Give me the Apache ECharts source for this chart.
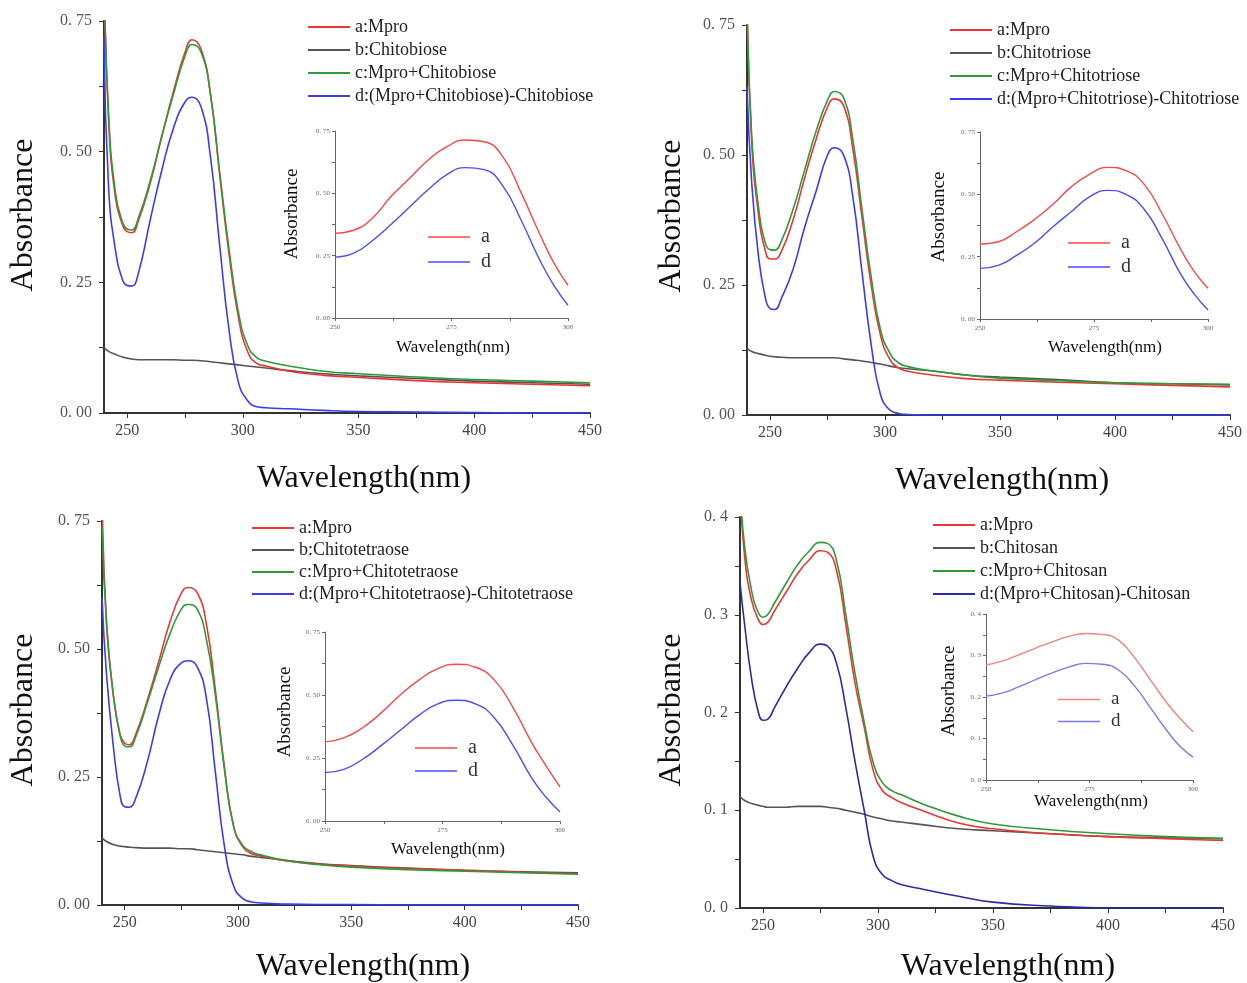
<!DOCTYPE html>
<html>
<head>
<meta charset="utf-8">
<title>UV absorbance of Mpro with chitooligosaccharides</title>
<script src="https://cdn.jsdelivr.net/npm/echarts@6/dist/echarts.min.js"></script>
<style>
  html, body { margin: 0; padding: 0; background: #fff; }
  #chart { width: 1247px; height: 983px; }
</style>
</head>
<body>
<div id="chart"></div>
<script>
// wavelength grid (nm) of the full spectra
var wavelengths = [240, 242, 245, 248, 250, 252, 255, 260, 265, 270, 275, 278, 282, 286, 290, 294, 298, 302, 306, 310, 320, 335, 350, 375, 400, 425, 450];
// wavelength grid of the 250-300 nm insets
var insetWavelengths = [250, 254, 258, 262, 266, 270, 274, 278, 282, 286, 290, 294, 297, 300];

var xLabelValues = [250, 300, 350, 400, 450];
var xTickValues = [250, 275, 300, 325, 350, 375, 400, 425, 450];

var sugars = ["Chitobiose", "Chitotriose", "Chitotetraose", "Chitosan"];

// panel 1: chitobiose
var mpro1  = [0.85, 0.56, 0.41, 0.36, 0.347, 0.345, 0.37, 0.44, 0.53, 0.615, 0.69, 0.714, 0.695, 0.61, 0.455, 0.305, 0.185, 0.118, 0.095, 0.09, 0.08, 0.072, 0.068, 0.062, 0.058, 0.055, 0.052];
var sugar1 = [0.125, 0.118, 0.112, 0.107, 0.105, 0.103, 0.102, 0.102, 0.102, 0.102, 0.101, 0.101, 0.100, 0.098, 0.096, 0.094, 0.092, 0.090, 0.088, 0.086, 0.081, 0.075, 0.071, 0.066, 0.061, 0.058, 0.055];
var mix1   = [0.85, 0.57, 0.42, 0.365, 0.352, 0.35, 0.375, 0.445, 0.53, 0.61, 0.683, 0.705, 0.69, 0.61, 0.46, 0.315, 0.195, 0.13, 0.106, 0.099, 0.09, 0.08, 0.075, 0.069, 0.064, 0.061, 0.058];
var diff1  = [0.72, 0.43, 0.31, 0.255, 0.244, 0.243, 0.27, 0.37, 0.465, 0.545, 0.595, 0.604, 0.585, 0.49, 0.32, 0.16, 0.06, 0.024, 0.012, 0.01, 0.008, 0.005, 0.003, 0.002, 0.001, 0.0, 0.0];
var insetMpro1 = [0.34, 0.352, 0.40, 0.487, 0.56, 0.634, 0.687, 0.714, 0.707, 0.647, 0.50, 0.334, 0.22, 0.131];
var insetDiff1 = [0.244, 0.26, 0.31, 0.375, 0.445, 0.515, 0.575, 0.603, 0.595, 0.53, 0.39, 0.23, 0.13, 0.051];

// panel 2: chitotriose
var mpro2  = [0.80, 0.53, 0.385, 0.315, 0.30, 0.30, 0.315, 0.375, 0.455, 0.53, 0.592, 0.608, 0.595, 0.512, 0.38, 0.25, 0.154, 0.108, 0.09, 0.084, 0.077, 0.070, 0.067, 0.063, 0.060, 0.057, 0.054];
var sugar2 = [0.128, 0.122, 0.118, 0.115, 0.113, 0.112, 0.111, 0.110, 0.110, 0.110, 0.110, 0.110, 0.108, 0.106, 0.104, 0.101, 0.098, 0.094, 0.091, 0.089, 0.085, 0.077, 0.073, 0.068, 0.062, 0.060, 0.058];
var mix2   = [0.80, 0.54, 0.40, 0.33, 0.318, 0.317, 0.335, 0.395, 0.47, 0.545, 0.605, 0.622, 0.61, 0.53, 0.395, 0.265, 0.165, 0.12, 0.10, 0.093, 0.085, 0.077, 0.071, 0.066, 0.062, 0.060, 0.059];
var diff2  = [0.632, 0.45, 0.305, 0.225, 0.205, 0.203, 0.225, 0.28, 0.36, 0.43, 0.50, 0.514, 0.50, 0.42, 0.275, 0.135, 0.04, 0.01, 0.003, 0.001, 0.0, 0.0, 0.0, 0.0, 0.0, 0.0, 0.0];
var insetMpro2 = [0.301, 0.31, 0.35, 0.40, 0.46, 0.53, 0.58, 0.608, 0.595, 0.54, 0.42, 0.28, 0.19, 0.123];
var insetDiff2 = [0.203, 0.215, 0.255, 0.305, 0.37, 0.43, 0.49, 0.516, 0.50, 0.44, 0.32, 0.18, 0.10, 0.036];

// panel 3: chitotetraose
var mpro3  = [0.80, 0.55, 0.41, 0.333, 0.316, 0.313, 0.335, 0.40, 0.475, 0.553, 0.609, 0.62, 0.61, 0.55, 0.42, 0.27, 0.155, 0.114, 0.10, 0.096, 0.087, 0.080, 0.076, 0.071, 0.068, 0.064, 0.061];
var sugar3 = [0.131, 0.124, 0.118, 0.115, 0.114, 0.113, 0.112, 0.111, 0.111, 0.111, 0.110, 0.110, 0.108, 0.106, 0.104, 0.102, 0.100, 0.098, 0.095, 0.093, 0.088, 0.081, 0.077, 0.072, 0.068, 0.065, 0.063];
var mix3   = [0.74, 0.55, 0.41, 0.33, 0.311, 0.309, 0.33, 0.395, 0.465, 0.53, 0.578, 0.587, 0.578, 0.52, 0.41, 0.265, 0.155, 0.117, 0.104, 0.098, 0.088, 0.079, 0.074, 0.069, 0.066, 0.063, 0.060];
var diff3  = [0.60, 0.45, 0.31, 0.213, 0.192, 0.191, 0.21, 0.28, 0.37, 0.44, 0.473, 0.477, 0.465, 0.405, 0.26, 0.115, 0.038, 0.013, 0.006, 0.004, 0.002, 0.001, 0.001, 0.0, 0.0, 0.0, 0.0];
var insetMpro3 = [0.314, 0.33, 0.37, 0.43, 0.50, 0.56, 0.605, 0.622, 0.61, 0.56, 0.45, 0.31, 0.22, 0.135];
var insetDiff3 = [0.192, 0.205, 0.245, 0.30, 0.36, 0.42, 0.465, 0.479, 0.465, 0.41, 0.30, 0.17, 0.095, 0.036];

// panel 4: chitosan
var mpro4  = [0.43, 0.36, 0.315, 0.295, 0.29, 0.292, 0.304, 0.323, 0.342, 0.356, 0.3655, 0.364, 0.345, 0.29, 0.23, 0.185, 0.14, 0.12, 0.113, 0.108, 0.099, 0.087, 0.081, 0.076, 0.073, 0.071, 0.069];
var sugar4 = [0.114, 0.110, 0.107, 0.105, 0.104, 0.103, 0.103, 0.103, 0.104, 0.104, 0.104, 0.103, 0.102, 0.100, 0.098, 0.096, 0.093, 0.091, 0.089, 0.088, 0.085, 0.081, 0.079, 0.076, 0.073, 0.072, 0.071];
var mix4   = [0.43, 0.37, 0.325, 0.302, 0.2975, 0.30, 0.312, 0.332, 0.351, 0.365, 0.374, 0.373, 0.355, 0.30, 0.24, 0.19, 0.148, 0.128, 0.12, 0.116, 0.106, 0.094, 0.086, 0.080, 0.076, 0.073, 0.071];
var diff4  = [0.333, 0.29, 0.235, 0.20, 0.192, 0.193, 0.205, 0.226, 0.245, 0.261, 0.27, 0.268, 0.25, 0.205, 0.15, 0.10, 0.052, 0.034, 0.028, 0.024, 0.019, 0.012, 0.006, 0.002, 0.0, 0.0, 0.0];
var insetMpro4 = [0.277, 0.287, 0.302, 0.318, 0.333, 0.346, 0.353, 0.351, 0.337, 0.293, 0.237, 0.182, 0.147, 0.116];
var insetDiff4 = [0.202, 0.21, 0.225, 0.242, 0.258, 0.272, 0.281, 0.279, 0.265, 0.225, 0.17, 0.115, 0.08, 0.055];

var mainData = [[mpro1, sugar1, mix1, diff1], [mpro2, sugar2, mix2, diff2], [mpro3, sugar3, mix3, diff3], [mpro4, sugar4, mix4, diff4]];
var insetData = [[insetMpro1, insetDiff1], [insetMpro2, insetDiff2], [insetMpro3, insetDiff3], [insetMpro4, insetDiff4]];

var SERIF = "'Liberation Serif', 'Times New Roman', serif";

// layout of each panel, in pixels
var panels = [
  {grid: [104, 21, 486, 392], yMax: 0.75, yStep: 0.25, digits: 2,
   inset: [335, 131, 233, 187], legend: [308, 18, 5], insetLegend: [428, 227, 5, 20],
   yTitle: [24, 215], xTitle: [364, 479], insetYTitle: [292, 214], insetXTitle: [453, 348],
   colors: ["#f03434", "#555555", "#2e9a38", "#3a3aff"], insetColors: ["#ff4646", "#4c4cff"]},
  {grid: [747, 25, 483, 390], yMax: 0.75, yStep: 0.25, digits: 2,
   inset: [980, 132, 228, 187], legend: [950, 21, 5], insetLegend: [1068, 233, 4, 20],
   yTitle: [672, 216], xTitle: [1002, 481], insetYTitle: [939, 217], insetXTitle: [1105, 348],
   colors: ["#f03434", "#555555", "#2e9a38", "#3a3aff"], insetColors: ["#ff4646", "#4c4cff"]},
  {grid: [102, 521, 476, 384], yMax: 0.75, yStep: 0.25, digits: 2,
   inset: [325, 632, 235, 189], legend: [252, 519, 4], insetLegend: [415, 738, 3, 20],
   yTitle: [24, 710], xTitle: [363, 967], insetYTitle: [285, 712], insetXTitle: [448, 850],
   colors: ["#f03434", "#555555", "#2e9a38", "#3a3aff"], insetColors: ["#ff4646", "#4c4cff"]},
  {grid: [740, 517, 483, 391], yMax: 0.4, yStep: 0.1, digits: 1,
   inset: [986, 614, 207, 166], legend: [933, 516, 5], insetLegend: [1058, 690, 3, 19],
   yTitle: [672, 710], xTitle: [1008, 967], insetYTitle: [949, 691], insetXTitle: [1091, 802],
   colors: ["#f03434", "#555555", "#2e9a38", "#2a2aa8"], insetColors: ["#f48080", "#7a7af0"]}
];

function tickText(digits) {
  return function (v) { return v.toFixed(digits).replace(".", ". "); };
}

function pairs(xs, ys) {
  return xs.map(function (x, i) { return [x, ys[i]]; });
}

var option = {
  backgroundColor: "#fff",
  animation: false,
  grid: [], xAxis: [], yAxis: [], series: [], legend: [], graphic: []
};

panels.forEach(function (p, i) {
  var sugar = sugars[i];
  var names = ["a:Mpro", "b:" + sugar, "c:Mpro+" + sugar, "d:(Mpro+" + sugar + ")-" + sugar];
  var insetNames = ["a", "d"];

  option.grid.push({left: p.grid[0], top: p.grid[1], width: p.grid[2], height: p.grid[3]});
  option.grid.push({left: p.inset[0], top: p.inset[1], width: p.inset[2], height: p.inset[3]});

  var mainAx = 2 * i, insetAx = 2 * i + 1;

  option.xAxis.push({
    type: "value", gridIndex: mainAx, min: 240, max: 450,
    axisLine: {lineStyle: {color: "#333", width: 2}},
    axisTick: {customValues: xTickValues, length: 5, lineStyle: {color: "#333"}},
    axisLabel: {customValues: xLabelValues, margin: 10, fontFamily: SERIF, fontSize: 16, color: "#444"},
    splitLine: {show: false}
  });
  option.xAxis.push({
    type: "value", gridIndex: insetAx, min: 250, max: 300, interval: 25,
    axisLine: {lineStyle: {color: "#666", width: 1}},
    axisTick: {length: 3, lineStyle: {color: "#666"}},
    minorTick: {show: true, splitNumber: 2, length: 3, lineStyle: {color: "#666"}},
    axisLabel: {margin: 6, fontFamily: SERIF, fontSize: 7, color: "#666"},
    splitLine: {show: false}
  });
  option.yAxis.push({
    type: "value", gridIndex: mainAx, min: 0, max: p.yMax, interval: p.yStep,
    axisLine: {show: true, lineStyle: {color: "#333", width: 2}},
    axisTick: {show: true, length: 5, lineStyle: {color: "#333"}},
    minorTick: {show: true, splitNumber: 2, length: 5, lineStyle: {color: "#333"}},
    axisLabel: {formatter: tickText(p.digits), margin: 12, fontFamily: SERIF, fontSize: 16, color: "#555"},
    splitLine: {show: false}
  });
  option.yAxis.push({
    type: "value", gridIndex: insetAx, min: 0, max: p.yMax, interval: p.yStep,
    axisLine: {show: true, lineStyle: {color: "#666", width: 1}},
    axisTick: {show: true, length: 3, lineStyle: {color: "#666"}},
    minorTick: {show: true, splitNumber: 2, length: 3, lineStyle: {color: "#666"}},
    axisLabel: {formatter: tickText(p.digits), margin: 5, fontFamily: SERIF, fontSize: 7, color: "#666"},
    splitLine: {show: false}
  });

  mainData[i].forEach(function (ys, k) {
    option.series.push({
      name: names[k], type: "line", xAxisIndex: mainAx, yAxisIndex: mainAx,
      data: pairs(wavelengths, ys), smooth: 0.5,
      symbol: "none", color: p.colors[k], lineStyle: {width: 1.6, color: p.colors[k]}, z: k === 1 ? 1 : 2
    });
  });
  insetData[i].forEach(function (ys, k) {
    option.series.push({
      name: insetNames[k], type: "line", xAxisIndex: insetAx, yAxisIndex: insetAx,
      data: pairs(insetWavelengths, ys), smooth: 0.5,
      symbol: "none", color: p.insetColors[k], lineStyle: {width: 1.4, color: p.insetColors[k]}
    });
  });

  option.legend.push({
    orient: "vertical", left: p.legend[0], top: p.legend[1], itemGap: p.legend[2], padding: 0,
    selectedMode: false, icon: "rect", itemWidth: 42, itemHeight: 2,
    textStyle: {fontFamily: SERIF, fontSize: 18, lineHeight: 18, color: "#222"},
    data: names.map(function (n, k) { return {name: n, itemStyle: {color: p.colors[k]}}; })
  });
  option.legend.push({
    orient: "vertical", left: p.insetLegend[0], top: p.insetLegend[1], itemGap: p.insetLegend[2], padding: 0,
    selectedMode: false, icon: "rect", itemWidth: 42, itemHeight: 1.5,
    textStyle: {fontFamily: SERIF, fontSize: p.insetLegend[3], lineHeight: p.insetLegend[3], color: "#333", padding: [0, 0, 0, 6]},
    data: insetNames.map(function (n, k) { return {name: n, itemStyle: {color: p.insetColors[k]}}; })
  });

  function title(text, pos, size, rotate) {
    return {
      type: "text", x: pos[0], y: pos[1], rotation: rotate ? Math.PI / 2 : 0,
      style: {text: text, x: 0, y: 0, font: size + "px " + SERIF, fill: "#111",
              align: "center", verticalAlign: "middle", textAlign: "center", textVerticalAlign: "middle"}
    };
  }
  option.graphic.push(title("Absorbance", p.yTitle, 32, true));
  option.graphic.push(title("Wavelength(nm)", p.xTitle, 32, false));
  option.graphic.push(title("Absorbance", p.insetYTitle, 19, true));
  option.graphic.push(title("Wavelength(nm)", p.insetXTitle, 17, false));
});

var chart = echarts.init(document.getElementById("chart"));
chart.setOption(option);
</script>
</body>
</html>
